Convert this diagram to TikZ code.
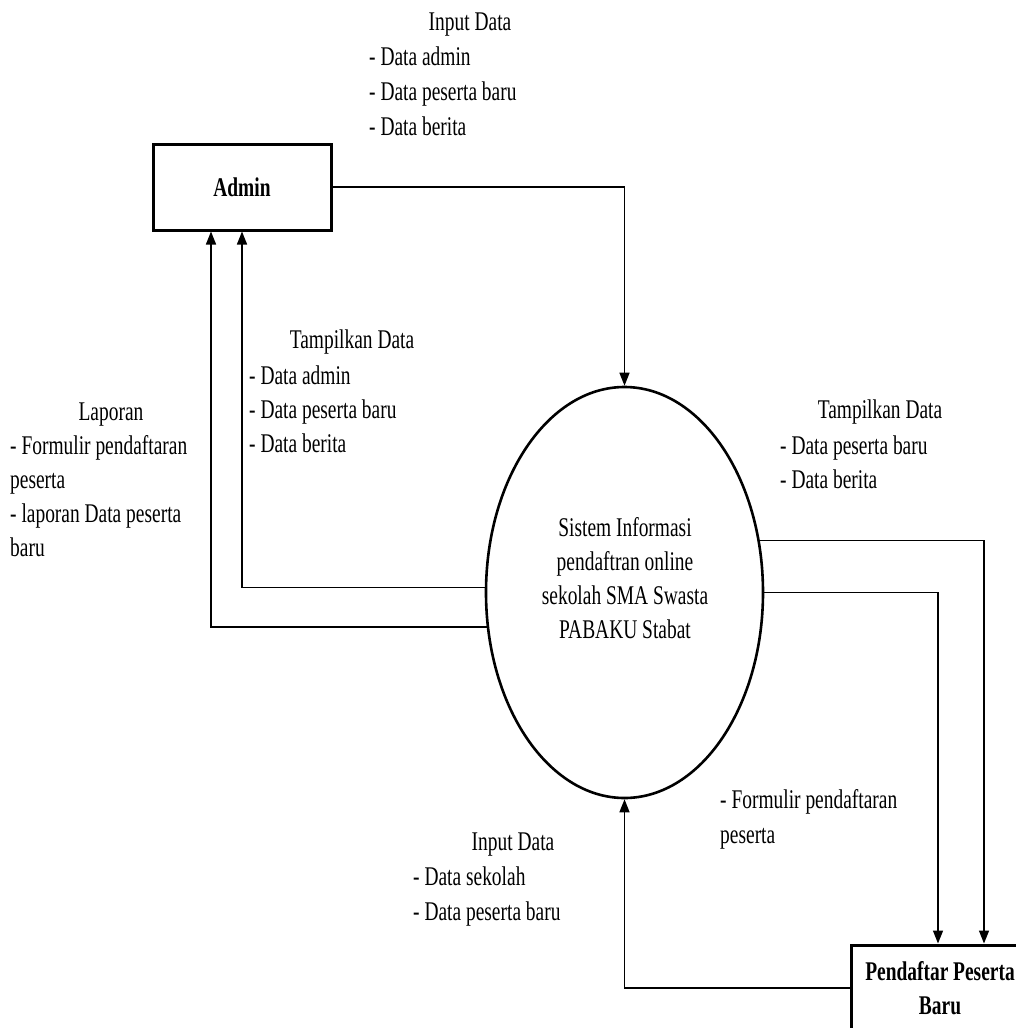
\documentclass[tikz,border=0pt]{standalone}
\usepackage{fontspec}
\setmainfont{Liberation Serif}[FakeStretch=0.72]
\usetikzlibrary{shapes.geometric,arrows.meta}
\newcommand{\dfdfont}{\fontsize{27}{34}\selectfont}
\begin{document}
\begin{tikzpicture}[x=1pt,y=-1pt,
  entity/.style={draw, line width=3pt, minimum width=178pt, minimum height=86pt,
    inner sep=0pt, font=\dfdfont\bfseries, align=center},
  proc/.style={draw, ellipse, line width=2.6pt, minimum width=277pt, minimum height=411pt, inner sep=0pt},
  flow/.style={line width=1.5pt, -{Triangle[length=13pt,width=10pt]}},
  ttl/.style={font=\dfdfont, inner sep=0pt, anchor=base},
  itm/.style={font=\dfdfont, inner sep=0pt, anchor=base west}]
\useasboundingbox (0,0) rectangle (1016,1028);
\fill[white] (0,0) rectangle (1016,1028);

% entities and process
\node[entity] (admin) at (242,187) {Admin};
\node[entity] (pend) at (940,988) {Pendaftar Peserta\\Baru};
\node[proc] (sys) at (624.5,592.5) {};
\node[font=\dfdfont, align=center, inner sep=0pt] (systext) at (625,578)
  {Sistem Informasi\\pendaftran online\\sekolah SMA Swasta\\PABAKU Stabat};

% connectors
\draw[flow] (admin.east) -| (sys.north);
\draw[flow] (sys.178.1) -| (admin.south);
\draw[flow] (sys.194.4) -| ([xshift=-31pt]admin.south);
\draw[flow] (sys.21.9) -| ([xshift=44pt]pend.north);
\draw[flow] (sys.0.8) -| ([xshift=-2pt]pend.north);
\draw[flow] (pend.west) -| (sys.south);

% labels: top Input Data
\node[ttl] (inA) at (470,30) {Input Data};
\node[itm] (inA1) at (369,65) {- Data admin};
\node[itm] (inA2) at (369,100) {- Data peserta baru};
\node[itm] (inA3) at (369,135) {- Data berita};

% left Tampilkan Data
\node[ttl] (tpA) at (352,348) {Tampilkan Data};
\node[itm] (tpA1) at (249,384) {- Data admin};
\node[itm] (tpA2) at (249,418) {- Data peserta baru};
\node[itm] (tpA3) at (249,452) {- Data berita};

% Laporan
\node[ttl] (lap) at (111,420) {Laporan};
\node[itm] (lap1) at (10,454) {- Formulir pendaftaran};
\node[itm] (lap2) at (10,488) {peserta};
\node[itm] (lap3) at (10,522) {- laporan Data peserta};
\node[itm] (lap4) at (10,556) {baru};

% right Tampilkan Data
\node[ttl] (tpB) at (880,418) {Tampilkan Data};
\node[itm] (tpB1) at (780,454) {- Data peserta baru};
\node[itm] (tpB2) at (780,488) {- Data berita};

% right Formulir
\node[itm] (frm1) at (720,808) {- Formulir pendaftaran};
\node[itm] (frm2) at (720,843) {peserta};

% bottom Input Data
\node[ttl] (inB) at (513,850) {Input Data};
\node[itm] (inB1) at (413,885) {- Data sekolah};
\node[itm] (inB2) at (413,920) {- Data peserta baru};
\end{tikzpicture}
\end{document}
